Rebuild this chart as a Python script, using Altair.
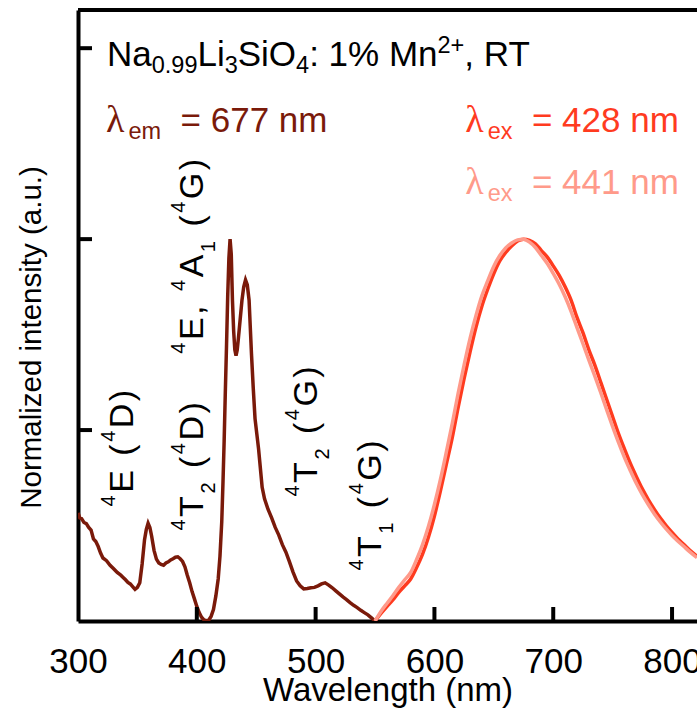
import altair as alt
import pandas as pd

# ---------------- data ----------------
ex_nm = [300, 301.5, 303, 305, 307, 309, 311, 313, 315, 317, 319, 321, 324, 327, 330, 333, 336, 338,
         340, 342, 344, 346, 348, 350, 352, 354, 356, 357.5, 359, 360.5, 362, 364, 366, 368, 370, 372,
         374, 376, 378, 380, 382, 384, 386, 388, 390, 392, 394, 396, 398, 400, 402, 404, 406, 408, 410,
         412, 414, 416, 418, 419.5, 421, 422, 423, 424, 425, 426, 427, 428, 429, 430, 431, 432, 433, 434,
         435, 436.5, 438, 439.5, 441, 442.5, 444, 445, 446, 447.5, 449, 450.5, 452, 453.5, 455, 457, 460,
         463, 466, 469, 472, 475, 478, 481, 484, 487, 490, 493, 496, 499, 502, 505, 508, 511, 514, 517,
         520, 523, 526, 529, 532, 535, 538, 541, 544, 547, 550]
ex_val = [0.283, 0.27, 0.268, 0.258, 0.255, 0.245, 0.238, 0.215, 0.208, 0.195, 0.178, 0.165, 0.158, 0.146,
          0.137, 0.127, 0.12, 0.114, 0.108, 0.101, 0.097, 0.09, 0.083, 0.088, 0.10, 0.15, 0.213, 0.24, 0.256,
          0.245, 0.222, 0.185, 0.162, 0.152, 0.148, 0.146, 0.152, 0.155, 0.16, 0.163, 0.167, 0.168, 0.163,
          0.156, 0.142, 0.12, 0.10, 0.077, 0.058, 0.038, 0.022, 0.01, 0.003, 0.001, 0.002, 0.012, 0.03,
          0.065, 0.11, 0.17, 0.26, 0.36, 0.47, 0.60, 0.72, 0.85, 0.95, 1.0, 0.96, 0.84, 0.76, 0.71, 0.695,
          0.71, 0.74, 0.79, 0.84, 0.875, 0.893, 0.88, 0.84, 0.77, 0.70, 0.61, 0.53, 0.49, 0.45, 0.40, 0.35,
          0.32, 0.292, 0.27, 0.245, 0.225, 0.20, 0.18, 0.155, 0.128, 0.105, 0.092, 0.084, 0.085, 0.087,
          0.088, 0.092, 0.097, 0.10, 0.094, 0.087, 0.079, 0.071, 0.063, 0.056, 0.048, 0.041, 0.035, 0.028,
          0.022, 0.016, 0.008, 0.0]

em_nm = [550, 555, 560, 565, 570, 575, 580, 585, 590, 595, 600, 605, 610, 615, 620, 625, 630, 635, 640,
         645, 650, 655, 660, 665, 670, 675, 680, 685, 690, 695, 700, 705, 710, 715, 720, 725, 730, 735,
         740, 745, 750, 755, 760, 765, 770, 775, 780, 785, 790, 795, 800, 805, 810, 815, 821]
em428_val = [0.0, 0.02, 0.038, 0.055, 0.075, 0.092, 0.11, 0.14, 0.175, 0.22, 0.275, 0.34, 0.41, 0.48,
             0.56, 0.635, 0.705, 0.77, 0.825, 0.87, 0.91, 0.943, 0.965, 0.982, 0.995, 1.0, 0.997, 0.988,
             0.97, 0.953, 0.93, 0.905, 0.875, 0.84, 0.795, 0.755, 0.71, 0.67, 0.625, 0.58, 0.535, 0.49,
             0.45, 0.412, 0.378, 0.346, 0.318, 0.293, 0.27, 0.25, 0.232, 0.215, 0.2, 0.185, 0.17]
em441_val = [0.0, 0.025, 0.046, 0.066, 0.088, 0.108, 0.127, 0.161, 0.2, 0.248, 0.305, 0.37, 0.442,
             0.517, 0.597, 0.671, 0.74, 0.8, 0.852, 0.892, 0.929, 0.957, 0.977, 0.99, 0.998, 1.0,
             0.992, 0.978, 0.957, 0.936, 0.91, 0.882, 0.849, 0.811, 0.768, 0.726, 0.683, 0.641, 0.598,
             0.553, 0.509, 0.467, 0.428, 0.393, 0.36, 0.331, 0.305, 0.281, 0.26, 0.241, 0.224, 0.209,
             0.195, 0.181, 0.166]

x_labels = [300, 400, 500, 600, 700, 800]
x_ticks = [400, 500, 600, 700, 800]
y_ticks = [0.5, 1.0, 1.5]

title_parts = [("Na", "n"), ("0.99", "sub"), ("Li", "n"), ("3", "sub"), ("SiO", "n"), ("4", "sub"),
               (": 1% Mn", "n"), ("2+", "sup"), (", RT", "n")]
lam_em_parts = [("λ", "lam"), ("em", "sub"), ("  = 677 nm", "n")]
lam_ex1_parts = [("λ", "lam"), ("ex", "sub"), ("  = 428 nm", "n")]
lam_ex2_parts = [("λ", "lam"), ("ex", "sub"), ("  = 441 nm", "n")]

labels_rot = [
    ([("4", "sup"), ("E (", "n"), ("4", "sup"), ("D)", "n")], 346.3, 0.300),
    ([("4", "sup"), ("T", "n"), ("2", "sub"), (" (", "n"), ("4", "sup"), ("D)", "n")], 405.3, 0.237),
    ([("4", "sup"), ("E, ", "n"), ("4", "sup"), ("A", "n"), ("1", "sub"), (" (", "n"), ("4", "sup"),
      ("G)", "n")], 405.3, 0.700),
    ([("4", "sup"), ("T", "n"), ("2", "sub"), (" (", "n"), ("4", "sup"), ("G)", "n")], 501.3, 0.326),
    ([("4", "sup"), ("T", "n"), ("1", "sub"), (" (", "n"), ("4", "sup"), ("G)", "n")], 555.2, 0.132),
]

# ---------------- style ----------------
FONT = "Liberation Sans"
DARK = "#7A1A0A"
RED = "#FF3B1F"
PINK = "#FF9A8A"
X_DOM = [300, 821]
Y_DOM = [0, 1.6]

AW = {' ': 278, '0': 556, '1': 556, '2': 556, '3': 556, '4': 556, '5': 556, '6': 556, '7': 556,
      '8': 556, '9': 556, '.': 278, ',': 278, ':': 278, '%': 889, '+': 584, '=': 584, '(': 333,
      ')': 333, 'N': 722, 'a': 556, 'L': 556, 'i': 222, 'S': 667, 'O': 778, 'M': 833, 'n': 556,
      'R': 722, 'T': 611, 'e': 556, 'm': 833, 'x': 500, 'E': 667, 'D': 722, 'A': 667, 'G': 778}


def tw(s, size):
    return sum(AW.get(c, 556) for c in s) / 1000.0 * size


xs = alt.Scale(domain=X_DOM, nice=False, zero=False)
ys = alt.Scale(domain=Y_DOM, nice=False, zero=False)
one = pd.DataFrame({"k": [0]})

x_axis = alt.Axis(values=x_labels, format="d", title="Wavelength (nm)", ticks=False, grid=False,
                  domainWidth=4, domainColor="black", labelFontSize=35, labelFont=FONT,
                  labelColor="black", labelPadding=51, labelBaseline="alphabetic",
                  labelFlush=False, labelOverlap=False, titleFont=FONT, titleFontSize=33,
                  titleFontWeight="normal", titleColor="black", titleY=79,
                  titleBaseline="alphabetic")
y_axis = alt.Axis(title="Normalized intensity (a.u.)", labels=False, ticks=False, grid=False,
                  domainWidth=4, domainColor="black", titleFont=FONT, titleFontSize=29.5,
                  titleFontWeight="normal", titleColor="black", titleAngle=270, titleX=-38,
                  titleY=327, titleAlign="center", titleBaseline="alphabetic")


def seg(txt, x, y, dx, dy, size, color, angle=0, font=FONT):
    return alt.Chart(one).mark_text(
        text=txt, align="left", baseline="alphabetic", dx=dx, dy=dy,
        fontSize=size, font=font, color=color, angle=angle,
    ).encode(x=alt.XDatum(x, scale=xs, axis=x_axis), y=alt.YDatum(y, scale=ys, axis=y_axis))


def hrich(parts, x, y, color, main=35, small=23.5):
    out, off = [], 0.0
    for txt, kind in parts:
        if kind == "lam":
            out.append(seg(txt, x, y, off - 1, 0, 38, color, font="Liberation Serif"))
            off += 21.5
            continue
        size = main if kind == "n" else small
        dy = {"n": 0, "sub": 7, "sup": -13}[kind]
        body = txt.lstrip(" ")
        off += tw(txt[: len(txt) - len(body)], size)
        out.append(seg(body, x, y, off, dy, size, color))
        off += tw(body, size)
    return out


def vrich(parts, x, y, color, main=34, small=20, track=2.5):
    out, off = [], 0.0
    for txt, kind in parts:
        size = main if kind == "n" else small
        dy = {"n": 0, "sub": 12, "sup": -18}[kind]
        for ch in txt:
            if ch != " ":
                out.append(seg(ch, x, y, off, dy, size, color, angle=270))
            off += tw(ch, size) + track
    return out


# ---------------- chart ----------------
ex_df = pd.DataFrame({"nm": ex_nm, "v": ex_val})
e1_df = pd.DataFrame({"nm": em_nm, "v": em428_val})
e2_df = pd.DataFrame({"nm": em_nm, "v": em441_val})

X = alt.X("nm:Q", scale=xs, axis=x_axis)
Y = alt.Y("v:Q", scale=ys, axis=y_axis)

ex_line = alt.Chart(ex_df).mark_line(color=DARK, strokeWidth=3.5, clip=True).encode(x=X, y=Y)
e1_line = alt.Chart(e1_df).mark_line(color=RED, strokeWidth=3.5, interpolate="monotone",
                                     clip=True).encode(x=X, y=Y)
e2_line = alt.Chart(e2_df).mark_line(color=PINK, strokeWidth=3.5, interpolate="monotone",
                                     clip=True).encode(x=X, y=Y)

xt = alt.Chart(pd.DataFrame({"t": x_ticks})).mark_tick(
    orient="vertical", size=14, thickness=4, color="black", opacity=1, yOffset=-7).encode(
    x=alt.X("t:Q", scale=xs, axis=x_axis), y=alt.YDatum(0, scale=ys, axis=y_axis))
yt = alt.Chart(pd.DataFrame({"t": y_ticks})).mark_tick(
    orient="horizontal", size=14, thickness=4, color="black", opacity=1, xOffset=7).encode(
    y=alt.Y("t:Q", scale=ys, axis=y_axis), x=alt.XDatum(300, scale=xs, axis=x_axis))
top = alt.Chart(one).mark_rule(color="black", strokeWidth=4).encode(
    x=alt.XDatum(X_DOM[0], scale=xs, axis=x_axis), x2=alt.datum(X_DOM[1]),
    y=alt.YDatum(Y_DOM[1], scale=ys, axis=y_axis))

texts = []
texts += hrich(title_parts, 324.4, 1.454, "black")
texts += hrich(lam_em_parts, 324.4, 1.281, DARK)
texts += hrich(lam_ex1_parts, 626.7, 1.281, RED)
texts += hrich(lam_ex2_parts, 626.7, 1.117, PINK)
for parts, lx, ly in labels_rot:
    texts += vrich(parts, lx, ly, "black")

chart = alt.layer(ex_line, e1_line, e2_line, xt, yt, top, *texts).properties(
    width=619, height=611,
    autosize=alt.AutoSizeParams(type="none"),
    padding={"left": 78, "top": 10, "right": 0, "bottom": 87},
).configure_view(stroke=None).configure(background="white")

chart.save("out.html", embed_options={"renderer": "svg", "actions": False})
